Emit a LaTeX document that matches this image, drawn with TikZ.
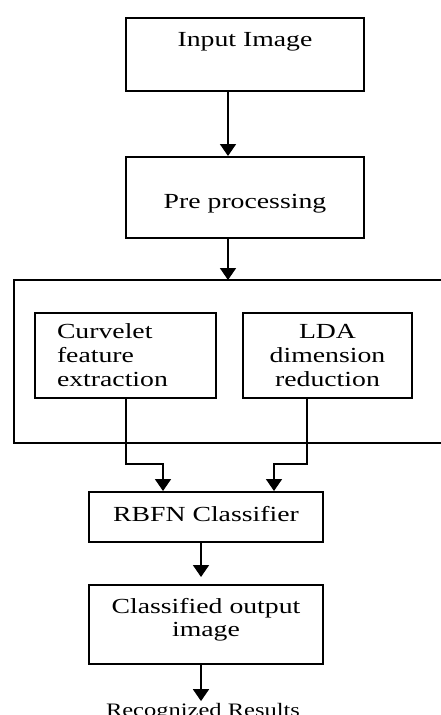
\documentclass[tikz,border=0pt]{standalone}
\usepackage{fontspec}
\setmainfont{Liberation Serif}[FakeStretch=1.29]
\usetikzlibrary{arrows.meta}
\begin{document}
\begin{tikzpicture}[x=1pt,y=-1pt,
  box/.style={draw, line width=2pt, inner sep=0pt, font=\fontsize{21.5}{24}\selectfont},
  arr/.style={line width=1.7pt, -{Triangle[width=16pt,length=12pt]}},
  ln/.style={line width=1.7pt}]
\useasboundingbox (0,0) rectangle (441,715);
% top boxes
\node[box, minimum width=238pt, minimum height=73pt, text height=28pt, text depth=45pt] (inp) at (245,54.5) {Input Image};
\node[box, minimum width=238pt, minimum height=81pt, text height=51pt, text depth=30pt] (pre) at (245,197.5) {Pre processing};
% open frame
\coordinate (ftop) at (228,280);
\draw[ln] (441,280) -- (14,280) -- (14,443) -- (441,443);
% inner boxes
\node[box, minimum width=181pt, minimum height=85pt, text width=137pt, align=left] (cur) at (125.5,355.5) {Curvelet\\feature\\extraction};
\node[box, minimum width=169pt, minimum height=85pt, align=center] (lda) at (327.5,355.5) {LDA\\dimension\\reduction};
% lower boxes
\node[box, minimum width=234pt, minimum height=50pt, text height=29pt, text depth=21pt] (rbf) at (206,517) {RBFN Classifier};
\node[box, minimum width=234pt, minimum height=79pt, align=center, font=\fontsize{21.5}{23}\selectfont] (cls) at (206,624.5) {Classified output\\image\rule[-14.7pt]{0pt}{14.7pt}};
\node[inner sep=0pt, anchor=base, font=\fontsize{19}{22}\selectfont] (res) at (203,716) {Recognized Results};
% connectors
\draw[arr] ([xshift=-17pt]inp.south) -- ([xshift=-17pt]pre.north);
\draw[arr] ([xshift=-17pt]pre.south) -- (ftop);
\draw[arr] ([xshift=0.5pt]cur.south) -- ++(0,65) -| ([xshift=-43pt]rbf.north);
\draw[arr] ([xshift=-20.5pt]lda.south) -- ++(0,65) -| ([xshift=68pt]rbf.north);
\draw[arr, shorten >=7pt] ([xshift=-5pt]rbf.south) -- ([xshift=-5pt]cls.north);
\draw[arr, shorten >=1.5pt] ([xshift=-5pt]cls.south) -- ([xshift=-5pt]cls.south |- res.north);
\end{tikzpicture}
\end{document}
